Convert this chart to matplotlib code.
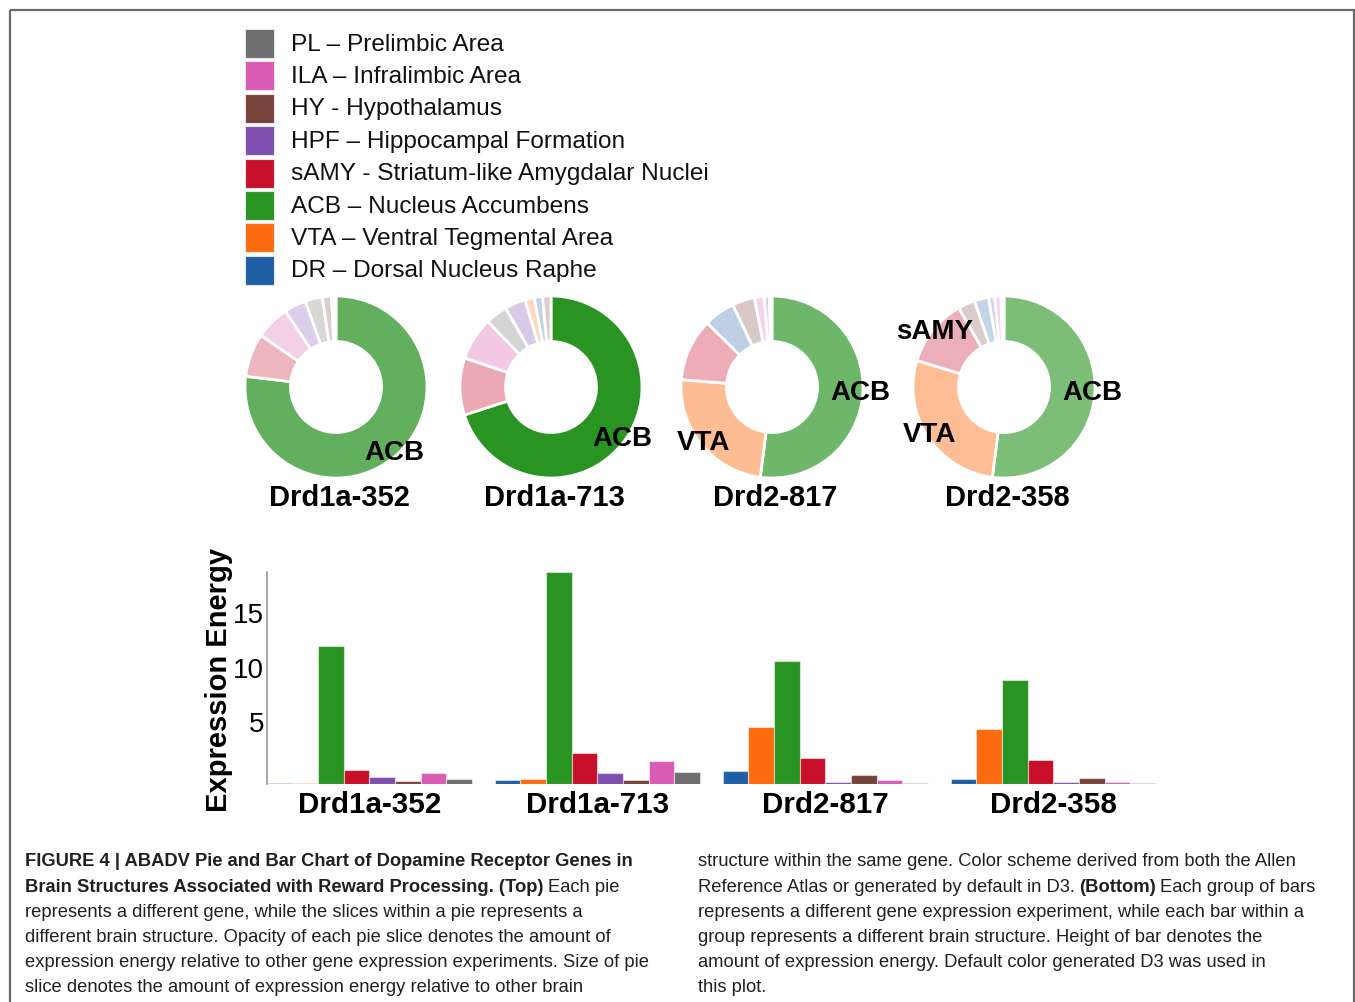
import matplotlib
matplotlib.use("Agg")
import matplotlib.pyplot as plt
import matplotlib.patches as mpatches
import matplotlib.transforms as mtransforms
from matplotlib import font_manager
from matplotlib.colors import to_rgb
import numpy as np

# Brain structures in bar order, with the colours of the figure
structures = ["DR", "VTA", "ACB", "sAMY", "HPF", "HY", "ILA", "PL"]
legend_names = [
    "DR – Dorsal Nucleus Raphe", "VTA – Ventral Tegmental Area",
    "ACB – Nucleus Accumbens", "sAMY - Striatum-like Amygdalar Nuclei",
    "HPF – Hippocampal Formation", "HY - Hypothalamus",
    "ILA – Infralimbic Area", "PL – Prelimbic Area",
]
colors = ["#1f5fa6", "#fd6b10", "#2a9423", "#c8102a",
          "#7e4fae", "#77433a", "#d95bb3", "#6e6e6e"]

# Gene expression experiments
genes = ["Drd1a-352", "Drd1a-713", "Drd2-817", "Drd2-358"]

# Expression energy per structure (same order as structures)
drd1a_352 = [0.05, 0.08, 12.66, 1.27, 0.64, 0.27, 1.00, 0.50]
drd1a_713 = [0.41, 0.46, 19.45, 2.82, 1.03, 0.41, 2.12, 1.08]
drd2_817 = [1.19, 5.23, 11.24, 2.40, 0.20, 0.86, 0.37, 0.10]
drd2_358 = [0.46, 5.05, 9.51, 2.20, 0.20, 0.55, 0.20, 0.10]
energy = np.array([drd1a_352, drd1a_713, drd2_817, drd2_358])

caption_left = [
    [("FIGURE 4 | ABADV Pie and Bar Chart of Dopamine Receptor Genes in", True)],
    [("Brain Structures Associated with Reward Processing. (Top)", True), ("Each pie", False)],
    [("represents a different gene, while the slices within a pie represents a", False)],
    [("different brain structure. Opacity of each pie slice denotes the amount of", False)],
    [("expression energy relative to other gene expression experiments. Size of pie", False)],
    [("slice denotes the amount of expression energy relative to other brain", False)],
]
caption_right = [
    [("structure within the same gene. Color scheme derived from both the Allen", False)],
    [("Reference Atlas or generated by default in D3.", False), ("(Bottom)", True), ("Each group of bars", False)],
    [("represents a different gene expression experiment, while each bar within a", False)],
    [("group represents a different brain structure. Height of bar denotes the", False)],
    [("amount of expression energy. Default color generated D3 was used in", False)],
    [("this plot.", False)],
]


def pick_font(names):
    for n in names:
        try:
            font_manager.findfont(font_manager.FontProperties(family=n), fallback_to_default=False)
            return n
        except ValueError:
            continue
    return "DejaVu Sans"


main_font = pick_font(["Liberation Sans", "Arimo", "DejaVu Sans"])
plt.rcParams["font.family"] = main_font

W, H = 1355, 1002
fig = plt.figure(figsize=(W / 100, H / 100), dpi=100)


def box(x0, y0, w, h):
    return [x0 / W, 1 - (y0 + h) / H, w / W, h / H]


# overlay in pixel units for frame, legend and caption
lay = fig.add_axes([0, 0, 1, 1])
lay.set_xlim(0, W)
lay.set_ylim(H, 0)
lay.axis("off")
lay.add_patch(mpatches.Rectangle((9.5, 10), 1344, 1010, fill=False, edgecolor="#6a6a6a", linewidth=1.6))

# legend
for k, i in enumerate(reversed(range(len(structures)))):
    yc = 43.5 + k * 32.4
    lay.add_patch(mpatches.Rectangle((245, yc - 14.5), 29, 29, facecolor=colors[i],
                                     edgecolor="#e6e6e6", linewidth=0.8))
    lay.text(291, yc + 1, legend_names[i], fontsize=17.6, va="center", ha="left", color="#111111")

# donut charts
vmax = energy.max()
pie_cx = [336, 551, 772, 1004]
R = 91
for g, gene in enumerate(genes):
    ax = fig.add_axes(box(pie_cx[g] - R, 296, 2 * R, 2 * R))
    order = np.argsort(-energy[g], kind="stable")
    vals = energy[g][order]
    fc = [(*to_rgb(colors[i]), 0.25 + 0.75 * energy[g][i] / vmax) for i in order]
    ax.pie(vals, colors=fc, startangle=90, counterclock=False, radius=1,
           wedgeprops=dict(width=0.5, edgecolor="white", linewidth=2))
    frac = vals / vals.sum()
    start = 0.0
    for v, f, i in zip(vals, frac, order):
        mid = np.deg2rad((start + f / 2) * 360)
        start += f
        if f > 0.115:
            ax.text(0.97 * np.sin(mid), 0.97 * np.cos(mid), structures[i], ha="center", va="center",
                    fontsize=20, fontweight="bold", color="black")
    ax.text(0.04, -1.07, gene, ha="center", va="top", fontsize=21, fontweight="bold")
    ax.set_xlim(-1, 1)
    ax.set_ylim(-1, 1)
    ax.set_aspect("equal")
    ax.axis("off")

# grouped bar chart
bx = fig.add_axes(box(266.7, 572, 912, 212))
n = len(structures)
bw = 0.9 / n
group_x = np.arange(len(genes))
for j in range(n):
    bx.bar(group_x + j * bw, energy[:, j], width=bw, align="edge", color=colors[j],
           edgecolor=(1, 1, 1, 0.5), linewidth=0.8)
bx.set_xlim(0, len(genes))
bx.set_ylim(0, vmax)
bx.set_yticks([5, 10, 15])
bx.set_xticks(group_x + 0.45)
bx.set_xticklabels(genes, fontsize=21.3, fontweight="bold")
bx.tick_params(axis="both", length=0)
bx.tick_params(axis="y", labelsize=20, pad=2)
bx.tick_params(axis="x", pad=5)
shift = mtransforms.ScaledTranslation(0, 7.5 / 100, fig.dpi_scale_trans)
for lbl in bx.get_yticklabels():
    lbl.set_transform(lbl.get_transform() + shift)
for s in ["top", "right", "bottom"]:
    bx.spines[s].set_visible(False)
bx.spines["left"].set_color("#9a9a9a")
bx.spines["left"].set_linewidth(1.2)
bx.set_ylabel("Expression Energy", fontsize=21, fontweight="bold")
bx.yaxis.set_label_coords(-0.037, 0.49)
bx.patch.set_alpha(0)

# caption, two columns with mixed bold / regular runs
renderer = fig.canvas.get_renderer()
cap_size = 13.2
gap = 4.2


def write_lines(x0, lines):
    for r, runs in enumerate(lines):
        y = 862 + r * 25.2
        x = x0
        for txt, bold in runs:
            t = lay.text(x, y, txt, fontsize=cap_size,
                         fontweight="bold" if bold else "normal", va="center", ha="left", color="#231f20")
            ext = t.get_window_extent(renderer=renderer)
            x = ext.x1 + gap


write_lines(25, caption_left)
write_lines(698, caption_right)

fig.savefig("out.png", dpi=100)
